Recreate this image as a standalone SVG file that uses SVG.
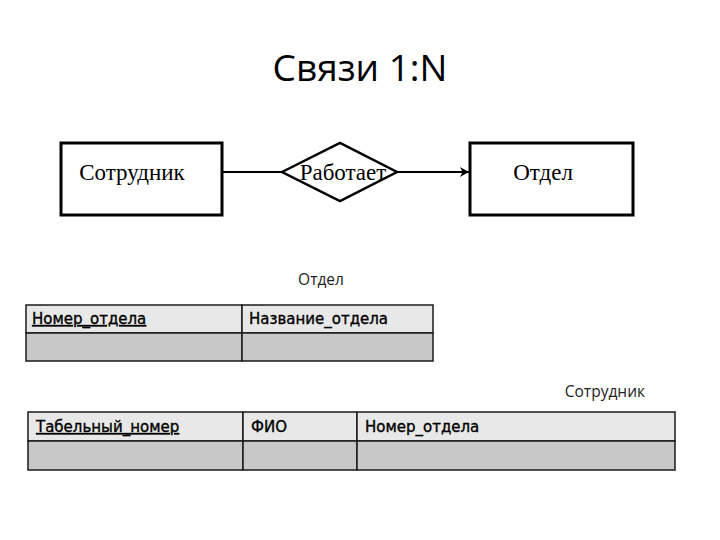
<svg xmlns="http://www.w3.org/2000/svg" width="720" height="540" viewBox="0 0 720 540">
<defs>
<style>
.ent{fill:#fff;stroke:#000;stroke-width:3}
.rel{fill:#fff;stroke:#000;stroke-width:2.5}
.er{font-family:"Liberation Serif","Times New Roman",serif;font-size:23px;fill:#000}
.conn{stroke:#000;stroke-width:2;fill:none}
.hdr{fill:#e8e8e8;stroke:#1a1a1a;stroke-width:1.5}
.row{fill:#c8c8c8;stroke:#1a1a1a;stroke-width:1.5}
.cell{font-family:"DejaVu Sans",Verdana,sans-serif;font-size:15px;fill:#000;stroke:#000;stroke-width:0.35}
.key{text-decoration:underline}
.cap{font-family:"Open Sans","Noto Sans",sans-serif;font-size:15.5px;fill:#222}
</style>
<marker id="arr" markerWidth="12" markerHeight="12" refX="10" refY="6" orient="auto" markerUnits="userSpaceOnUse">
<path d="M1,1 L10,6 L1,11 L3.5,6 Z" fill="#000"/>
</marker>
</defs>
<rect width="720" height="540" fill="#fff"/>
<text x="360" y="81" text-anchor="middle" font-family="'Open Sans','Noto Sans',sans-serif" font-size="37" fill="#000">Связи 1:N</text>

<g id="connectors">
<line class="conn" x1="222" y1="172" x2="282" y2="172"/>
<line class="conn" x1="397" y1="172" x2="469" y2="172" marker-end="url(#arr)"/>
</g>

<g id="sotrudnik">
<rect class="ent" x="61" y="143" width="161" height="72"/>
<text class="er" x="132" y="180" text-anchor="middle">Сотрудник</text>
</g>
<g id="rabotaet">
<polygon class="rel" points="282,172 340,143 397,172 340,201"/>
<text class="er" x="343" y="180" text-anchor="middle">Работает</text>
</g>
<g id="otdel">
<rect class="ent" x="470" y="143" width="163" height="72"/>
<text class="er" x="543" y="180" text-anchor="middle">Отдел</text>
</g>

<g id="table-otdel">
<text class="cap" x="321" y="285" text-anchor="middle">Отдел</text>
<rect class="hdr" x="26" y="305" width="216" height="28"/>
<rect class="hdr" x="242" y="305" width="191" height="28"/>
<rect class="row" x="26" y="333" width="216" height="28"/>
<rect class="row" x="242" y="333" width="191" height="28"/>
<text class="cell key" x="32" y="324">Номер_отдела</text>
<text class="cell" x="249" y="324">Название_отдела</text>
</g>

<g id="table-sotrudnik">
<text class="cap" x="645" y="397" text-anchor="end">Сотрудник</text>
<rect class="hdr" x="28" y="412" width="215" height="29"/>
<rect class="hdr" x="243" y="412" width="114" height="29"/>
<rect class="hdr" x="357" y="412" width="318" height="29"/>
<rect class="row" x="28" y="441" width="215" height="29"/>
<rect class="row" x="243" y="441" width="114" height="29"/>
<rect class="row" x="357" y="441" width="318" height="29"/>
<text class="cell key" x="36" y="432">Табельный_номер</text>
<text class="cell" x="251" y="432">ФИО</text>
<text class="cell" x="365" y="432">Номер_отдела</text>
</g>
</svg>
